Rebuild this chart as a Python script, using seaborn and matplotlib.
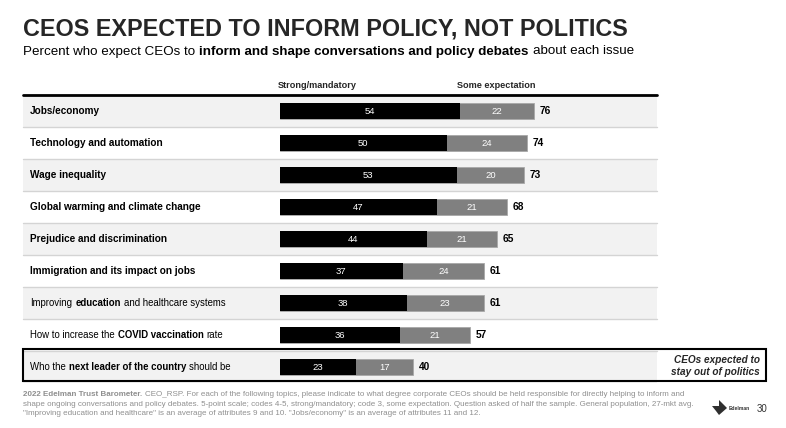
import matplotlib
matplotlib.use("Agg")
import matplotlib.pyplot as plt
from matplotlib.patches import Rectangle, Polygon
import seaborn as sns
import pandas as pd

# data
issues = [
    "Jobs/economy",
    "Technology and automation",
    "Wage inequality",
    "Global warming and climate change",
    "Prejudice and discrimination",
    "Immigration and its impact on jobs",
    "Improving education and healthcare systems",
    "How to increase the COVID vaccination rate",
    "Who the next leader of the country should be",
]
strong = [54, 50, 53, 47, 44, 37, 38, 36, 23]
some = [22, 24, 20, 21, 21, 24, 23, 21, 17]
totals = [76, 74, 73, 68, 65, 61, 61, 57, 40]

# row label pieces (text, bold?)
label_parts = [
    [("Jobs/economy", True)],
    [("Technology and automation", True)],
    [("Wage inequality", True)],
    [("Global warming and climate change", True)],
    [("Prejudice and discrimination", True)],
    [("Immigration and its impact on jobs", True)],
    [("Improving ", False), ("education", True), (" and healthcare systems", False)],
    [("How to increase the ", False), ("COVID vaccination", True), (" rate", False)],
    [("Who the ", False), ("next leader of the country", True), (" should be", False)],
]

title = "CEOS EXPECTED TO INFORM POLICY, NOT POLITICS"
subtitle_parts = [
    ("Percent who expect CEOs to ", False),
    ("inform and shape conversations and policy debates", True),
    (" about each issue", False),
]
col_headers = ["Strong/mandatory", "Some expectation"]
callout = "CEOs expected to\nstay out of politics"
footnote = [
    [("2022 Edelman Trust Barometer.", True),
     (" CEO_RSP. For each of the following topics, please indicate to what degree corporate CEOs should be held responsible for directly helping to inform and", False)],
    [("shape ongoing conversations and policy debates. 5-point scale; codes 4-5, strong/mandatory; code 3, some expectation. Question asked of half the sample. General population, 27-mkt avg.", False)],
    [("\"Improving education and healthcare\" is an average of attributes 9 and 10. \"Jobs/economy\" is an average of attributes 11 and 12.", False)],
]

sns.set_style("white")
plt.rcParams["font.family"] = ["Liberation Sans", "DejaVu Sans"]

W, H = 786, 428
fig = plt.figure(figsize=(W / 100, H / 100), dpi=100)
ax = fig.add_axes([0, 0, 1, 1])

# geometry (pixels)
x0_px, px_per_unit = 279.5, 3.346
row0_px, row_h = 111, 32
left_px, right_px = 23, 657


def fx(x):
    return x / W


def fy(y):
    return 1 - y / H


df = pd.DataFrame({"issue": issues, "strong": strong, "some": some, "total": totals})

sns.barplot(data=df, y="issue", x="total", color="#808080", width=0.53,
            orient="h", ax=ax, edgecolor="#a8a8a8", linewidth=0.6, zorder=3)
sns.barplot(data=df, y="issue", x="strong", color="black", width=0.53,
            orient="h", ax=ax, linewidth=0, zorder=4)

ax.set_xlim(-x0_px / px_per_unit, (W - x0_px) / px_per_unit)
ax.set_ylim((H - row0_px) / row_h, -row0_px / row_h)
ax.axis("off")

# stripes and separators
for i in range(len(issues)):
    if i % 2 == 0:
        ax.axhspan(i - 0.5, i + 0.5, xmin=fx(left_px), xmax=fx(right_px),
                   color="#f2f2f2", zorder=0, lw=0)
    if i < len(issues) - 1:
        ax.axhline(i + 0.5, xmin=fx(left_px), xmax=fx(right_px),
                   color="#d4d4d4", lw=1, zorder=1)
ax.axhline(-0.5, xmin=fx(left_px), xmax=fx(right_px), color="black", lw=2, zorder=2)

# value labels
for i, (s, o, t) in enumerate(zip(strong, some, totals)):
    ax.text(s / 2, i, str(s), color="white", ha="center", va="center",
            fontsize=6.8, zorder=5)
    ax.text(s + o / 2, i, str(o), color="white", ha="center", va="center",
            fontsize=6.8, zorder=5)
    ax.text(t + 1.7, i, str(t), color="black", ha="left", va="center",
            fontsize=7.3, fontweight="bold", zorder=5)

renderer = fig.canvas.get_renderer()


def text_width(s, size, bold):
    t = fig.text(0, 0, s, fontsize=size, fontweight="bold" if bold else "normal")
    w = t.get_window_extent(renderer).width
    t.remove()
    return w


def rich_text(x, y, parts, size, color="black", va="center"):
    # lay out mixed normal/bold pieces one after another
    cur = x
    for s, bold in parts:
        lead = len(s) - len(s.lstrip(" "))
        trail = len(s) - len(s.rstrip(" "))
        sp = text_width("x x", size, bold) - text_width("xx", size, bold) + 0.5
        cur += lead * sp
        core = s.strip(" ")
        fig.text(fx(cur), fy(y), core, fontsize=size, color=color, va=va,
                 ha="left", fontweight="bold" if bold else "normal")
        cur += text_width(core, size, bold) + trail * sp


# row labels (mixed-weight rows are set a touch smaller, as in the slide)
for i, parts in enumerate(label_parts):
    size = 7.2 if len(parts) == 1 else 6.9
    rich_text(30, row0_px + i * row_h, parts, size)

# titles
fig.text(fx(23), fy(35.5), title, fontsize=16.8, fontweight="bold",
         va="baseline", ha="left")
rich_text(23, 54.5, subtitle_parts, 9.6, va="baseline")

# column headers
fig.text(fx(317), fy(86), col_headers[0], fontsize=6.6, fontweight="bold",
         ha="center", va="center")
fig.text(fx(496), fy(86), col_headers[1], fontsize=6.6, fontweight="bold",
         ha="center", va="center")

# callout box around last row
fig.patches.append(Rectangle((fx(23), fy(381)), fx(766 - 23), (381 - 349) / H,
                             transform=fig.transFigure, fill=False,
                             edgecolor="black", lw=1.5, zorder=6))
fig.text(fx(760), fy(366), callout, fontsize=7.2, fontweight="bold",
         fontstyle="italic", ha="right", va="center", linespacing=1.15)

# footnote
for j, parts in enumerate(footnote):
    rich_text(23, 394.7 + j * 9.3, parts, 5.75, color="#8f8f8f")

# logo + page number
fig.patches.append(Polygon([(fx(712), fy(406)), (fx(719), fy(406)), (fx(719), fy(400)),
                            (fx(727), fy(408)), (fx(719), fy(415)), (fx(716), fy(411))],
                           closed=True, transform=fig.transFigure,
                           facecolor="#2f2f2f", edgecolor="none"))
fig.text(fx(729), fy(408.5), "Edelman", fontsize=3.6, fontweight="bold",
         color="#333333", ha="left", va="center")
fig.text(fx(767), fy(409), "30", fontsize=7, color="#333333",
         ha="right", va="center")

fig.savefig("out.png", dpi=100)
